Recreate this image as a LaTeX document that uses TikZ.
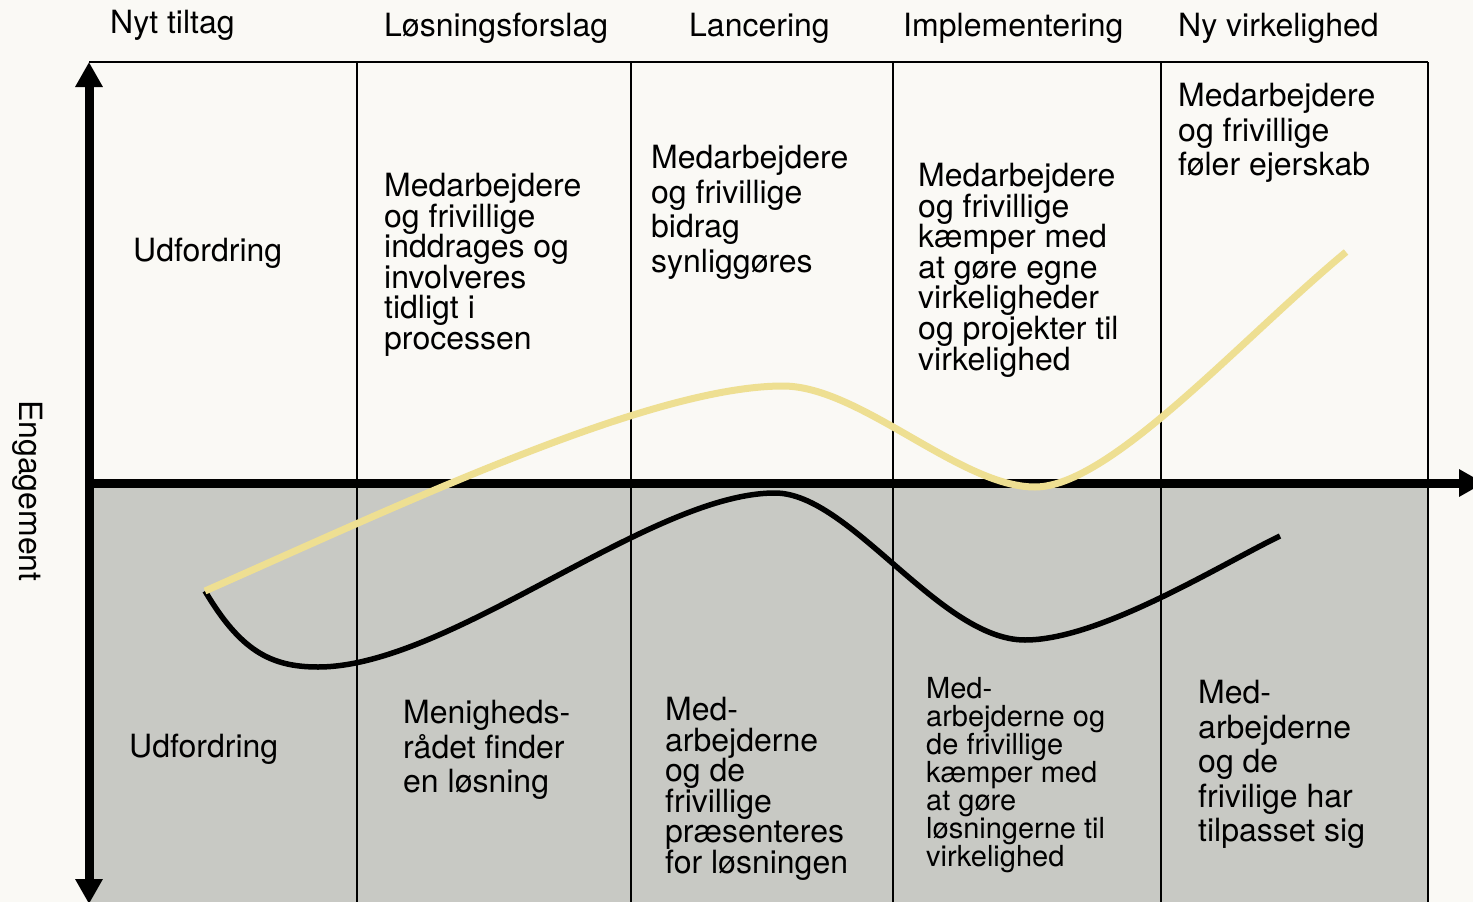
\documentclass[tikz,border=0pt]{standalone}
\usepackage{fontspec}
\setmainfont{TeX Gyre Heros}
\usetikzlibrary{arrows.meta}
\definecolor{paper}{HTML}{FAF9F5}
\definecolor{lowgray}{HTML}{C8C9C4}
\definecolor{straw}{HTML}{EEDF92}

\begin{document}
\begin{tikzpicture}[x=1pt,y=-1pt,>={Triangle[length=25pt,width=26pt]}]
  \tikzstyle{cell}=[anchor=north west,inner sep=0pt,align=left,
                    font=\fontsize{32}{34.5}\selectfont]
  \tikzstyle{tight}=[cell,font=\fontsize{32}{30.6}\selectfont]
  \tikzstyle{small}=[cell,font=\fontsize{29}{28}\selectfont]
  \tikzstyle{grid}=[line width=2.5pt]
  \tikzstyle{axis}=[line width=9pt]
  \tikzstyle{curve}=[line width=5.5pt]

  % page and lower half
  \fill[paper] (0,0) rectangle (1473,902);
  \useasboundingbox (0,0) rectangle (1473,902);
  \fill[lowgray] (89,483) rectangle (1428,902);

  % phases
  \draw[grid] (89,62) -- (1428,62);
  \foreach \x in {357,631,893,1161,1428}
    \draw[grid] (\x,62) -- (\x,902);

  \node[cell] (hNyt)  at (110,10) {Nyt tiltag};
  \node[cell] (hLos)  at (384,13) {Løsningsforslag};
  \node[cell] (hLan)  at (689,13) {Lancering};
  \node[cell] (hImp)  at (903,13) {Implementering};
  \node[cell] (hNy)   at (1178,13) {Ny virkelighed};

  % upper row
  \node[cell]  (uUdf) at (133,238) {Udfordring};
  \node[tight] (uLos) at (384,173) {Medarbejdere\\og frivillige\\inddrages og\\involveres\\tidligt i\\processen};
  \node[cell]  (uLan) at (651,145) {Medarbejdere\\og frivillige\\bidrag\\synliggøres};
  \node[tight] (uImp) at (918,163) {Medarbejdere\\og frivillige\\kæmper med\\at gøre egne\\virkeligheder\\og projekter til\\virkelighed};
  \node[cell]  (uNy)  at (1178,83) {Medarbejdere\\og frivillige\\føler ejerskab};

  % lower row
  \node[cell]  (lUdf) at (129,734) {Udfordring};
  \node[cell]  (lLos) at (403,700) {Menigheds-\\rådet finder\\en løsning};
  \node[tight] (lLan) at (665,697) {Med-\\arbejderne\\og de\\frivillige\\præsenteres\\for løsningen};
  \node[small] (lImp) at (926,677) {Med-\\arbejderne og\\de frivillige\\kæmper med\\at gøre\\løsningerne til\\virkelighed};
  \node[cell]  (lNy)  at (1198,680) {Med-\\arbejderne\\og de\\frivilige har\\tilpasset sig};

  \node[cell,anchor=center,rotate=-90] (eng) at (28,491) {Engagement};

  % axes
  \coordinate (o) at (89,483);
  \draw[axis,<->] (89,904) -- (89,62);
  \draw[axis,->] (o) -- (1484,483);

  % engagement curves
  \coordinate (start) at (205,591);
  \draw[curve] (start) .. controls (240,650) and (270,667) .. (318,667)
    .. controls (450,667) and (650,493) .. (775,493)
    .. controls (850,493) and (940,640) .. (1025,640)
    .. controls (1100,640) and (1220,565) .. (1280,536);
  \draw[curve,straw,line width=7pt] (start) .. controls (400,505) and (650,386) .. (783,386)
    .. controls (860,386) and (960,487) .. (1035,487)
    .. controls (1110,487) and (1240,340) .. (1346,252);
\end{tikzpicture}
\end{document}
